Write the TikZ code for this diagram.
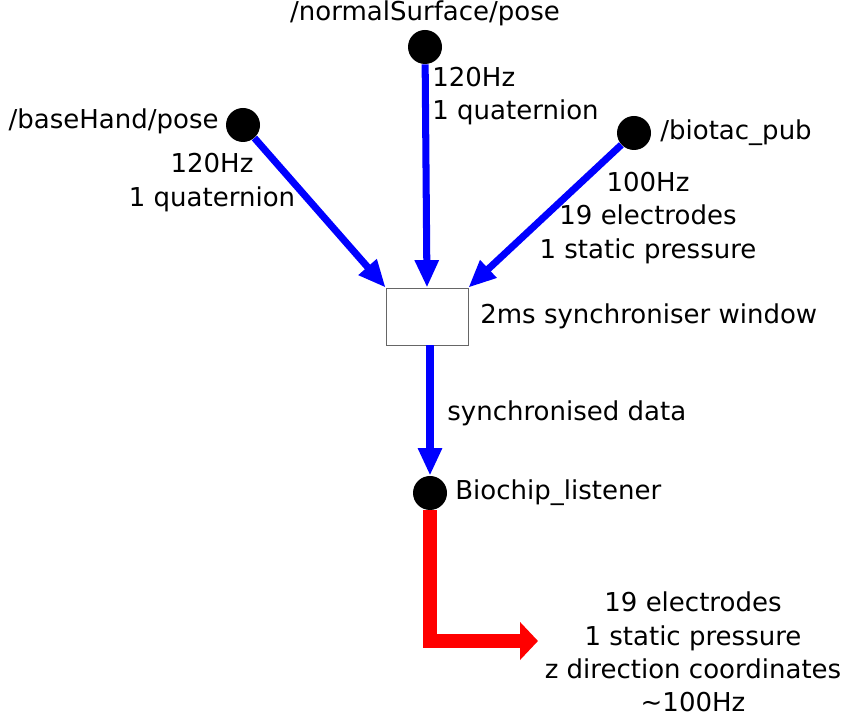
\documentclass[tikz,border=0pt]{standalone}
\usepackage{fontspec}
\setmainfont{DejaVu Sans}
\usetikzlibrary{arrows.meta}
\begin{document}
\begin{tikzpicture}[font=\fontsize{14.8}{19}\selectfont,
	topic/.style={circle,fill=black,minimum size=0.68cm,inner sep=0pt},
	lbl/.style={inner sep=0pt,align=center},
	feed/.style={blue,line width=4pt,-{Triangle[length=0.55cm,width=0.45cm]}},
	outfeed/.style={red,line width=8pt,line join=miter,-{Triangle[length=0.36cm,width=0.74cm]}}]
	\useasboundingbox (0,0) rectangle (16.9,14.3);
	\node[topic] (normal) at (8.5,13.36) {};
	\node[lbl] (normalname) at (8.5,14.04) {/normalSurface/pose};
	\node[topic] (hand) at (4.86,11.8) {};
	\node[lbl,anchor=east] (handname) at (4.38,11.88) {/baseHand/pose};
	\node[topic] (biotac) at (12.68,11.64) {};
	\node[lbl,anchor=west] (biotacname) at (13.2,11.64) {/biotac\_pub};
	\node[draw=gray!80!black,minimum width=1.64cm,minimum height=1.14cm,inner sep=0pt] (sync) at (8.54,7.97) {};
	\node[lbl,anchor=west] (syncname) at (9.6,7.98) {2ms synchroniser window};
	\node[topic] (listener) at (8.6,4.44) {};
	\node[lbl,anchor=west] (listenername) at (9.1,4.44) {Biochip\_listener};
	\coordinate (outend) at (10.76,1.48);
	\draw[feed] (hand) -- (sync.north west);
	\draw[feed] (normal) -- (sync.north);
	\draw[feed] (biotac) -- (sync.north east);
	\draw[feed] (sync.south -| listener) -- (listener);
	\draw[outfeed] (listener.south) |- (outend);
	\node[lbl] (handrate) at (4.24,10.65) {120Hz\\1 quaternion};
	\node[lbl,anchor=west,align=left] (normalrate) at (8.64,12.38) {120Hz\\1 quaternion};
	\node[lbl] (biotacrate) at (12.96,9.94) {100Hz\\19 electrodes\\1 static pressure};
	\node[lbl,anchor=west] (syncdata) at (8.94,6.04) {synchronised data};
	\node[lbl] (outdata) at (13.86,1.26) {19 electrodes\\1 static pressure\\z direction coordinates\\\textasciitilde100Hz};
\end{tikzpicture}
\end{document}
